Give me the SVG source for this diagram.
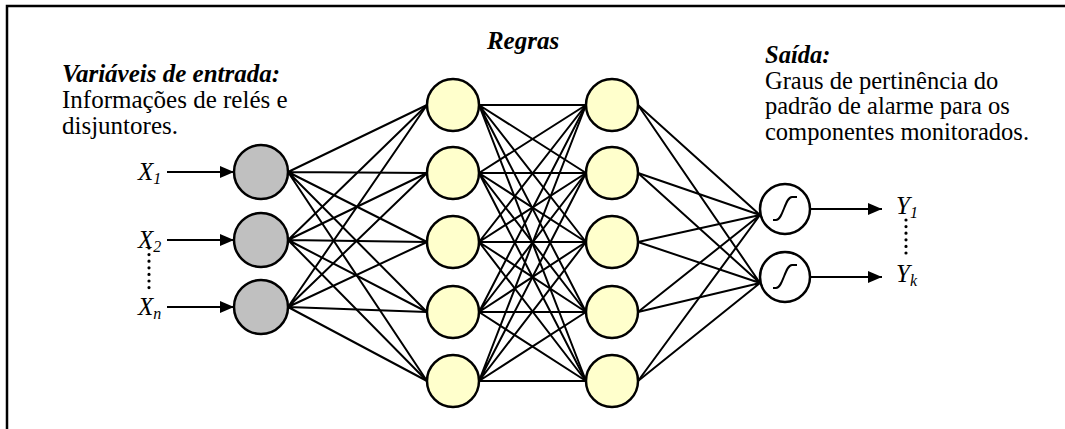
<svg xmlns="http://www.w3.org/2000/svg" width="1065" height="429" viewBox="0 0 1065 429">
<defs>
<style>
.t{font-family:"Liberation Serif","Times New Roman",serif;font-size:25px;fill:#000}
.r{font-size:24.5px}
.bi{font-weight:bold;font-style:italic}
.i{font-style:italic}
.c{stroke:#000;stroke-width:2;fill:none}
.g{fill:#c0c0c0;stroke:#000;stroke-width:2.5}
.y{fill:#ffffcc;stroke:#000;stroke-width:2.5}
.s{fill:#fff;stroke:#000;stroke-width:2.5}
.dots{stroke:#000;stroke-width:3.2;stroke-linecap:round;stroke-dasharray:0 6.6;fill:none}
</style>
<marker id="ah" markerWidth="14" markerHeight="12" refX="14" refY="6" orient="auto" markerUnits="userSpaceOnUse">
<path d="M0,0 L14,6 L0,12 Z" fill="#000"/>
</marker>
</defs>
<rect x="7" y="6" width="1080" height="440" fill="#fff" stroke="#000" stroke-width="2.5"/>
<g id="connectors">
<g class="c">
<path d="M288,172L427,105M288,172L427,173M288,172L427,242M288,172L427,312M288,172L427,381"/>
<path d="M288,240L427,105M288,240L427,173M288,240L427,242M288,240L427,312M288,240L427,381"/>
<path d="M288,307L427,105M288,307L427,173M288,307L427,242M288,307L427,312M288,307L427,381"/>
<path d="M479,105L586,105M479,105L586,173M479,105L586,242M479,105L586,312M479,105L586,381"/>
<path d="M479,173L586,105M479,173L586,173M479,173L586,242M479,173L586,312M479,173L586,381"/>
<path d="M479,242L586,105M479,242L586,173M479,242L586,242M479,242L586,312M479,242L586,381"/>
<path d="M479,312L586,105M479,312L586,173M479,312L586,242M479,312L586,312M479,312L586,381"/>
<path d="M479,381L586,105M479,381L586,173M479,381L586,242M479,381L586,312M479,381L586,381"/>
<path d="M638,105L760,215M638,173L760,215M638,242L760,215M638,312L760,215M638,381L760,215"/>
<path d="M638,105L760,283M638,173L760,283M638,242L760,283M638,312L760,283M638,381L760,283"/>
</g>
<g class="c" marker-end="url(#ah)">
<line x1="167" y1="172" x2="234" y2="172"/>
<line x1="167" y1="240" x2="234" y2="240"/>
<line x1="167" y1="307" x2="234" y2="307"/>
<line x1="811" y1="209" x2="882" y2="209"/>
<line x1="811" y1="277" x2="882" y2="277"/>
</g>
<line class="dots" x1="149" y1="248" x2="149" y2="294"/>
<line class="dots" x1="906" y1="220" x2="906" y2="256"/>
</g>
<g id="in1"><circle class="g" cx="261" cy="172" r="27"/></g>
<g id="in2"><circle class="g" cx="261" cy="240" r="27"/></g>
<g id="in3"><circle class="g" cx="261" cy="307" r="27"/></g>
<g id="r1a"><circle class="y" cx="453" cy="105" r="26"/></g>
<g id="r1b"><circle class="y" cx="453" cy="173" r="26"/></g>
<g id="r1c"><circle class="y" cx="453" cy="242" r="26"/></g>
<g id="r1d"><circle class="y" cx="453" cy="312" r="26"/></g>
<g id="r1e"><circle class="y" cx="453" cy="381" r="26"/></g>
<g id="r2a"><circle class="y" cx="612" cy="105" r="26"/></g>
<g id="r2b"><circle class="y" cx="612" cy="173" r="26"/></g>
<g id="r2c"><circle class="y" cx="612" cy="242" r="26"/></g>
<g id="r2d"><circle class="y" cx="612" cy="312" r="26"/></g>
<g id="r2e"><circle class="y" cx="612" cy="381" r="26"/></g>
<g id="out1"><circle class="s" cx="785" cy="209" r="25"/><path class="c" stroke-width="3" d="M773,220 L776,220 C783,220 785,197 792,197 L797,197"/></g>
<g id="out2"><circle class="s" cx="785" cy="277" r="25"/><path class="c" stroke-width="3" d="M773,288 L776,288 C783,288 785,265 792,265 L797,265"/></g>
<g id="labels">
<text class="t bi" x="62" y="82">Variáveis de entrada:</text>
<text class="t" x="62" y="108">Informações de relés e</text>
<text class="t" x="62" y="134">disjuntores.</text>
<text class="t bi" x="523" y="49" text-anchor="middle">Regras</text>
<text class="t r bi" x="765" y="63">Saída:</text>
<text class="t r" x="765" y="88.5">Graus de pertinência do</text>
<text class="t r" x="765" y="114">padrão de alarme para os</text>
<text class="t r" x="765" y="139.5">componentes monitorados.</text>
<text class="t i" x="138" y="180">X<tspan font-size="16" dy="4">1</tspan></text>
<text class="t i" x="138" y="248">X<tspan font-size="16" dy="4">2</tspan></text>
<text class="t i" x="138" y="315">X<tspan font-size="16" dy="4">n</tspan></text>
<text class="t i" x="896" y="214">Y<tspan font-size="16" dy="4">1</tspan></text>
<text class="t i" x="896" y="282">Y<tspan font-size="16" dy="4">k</tspan></text>
</g>
</svg>
